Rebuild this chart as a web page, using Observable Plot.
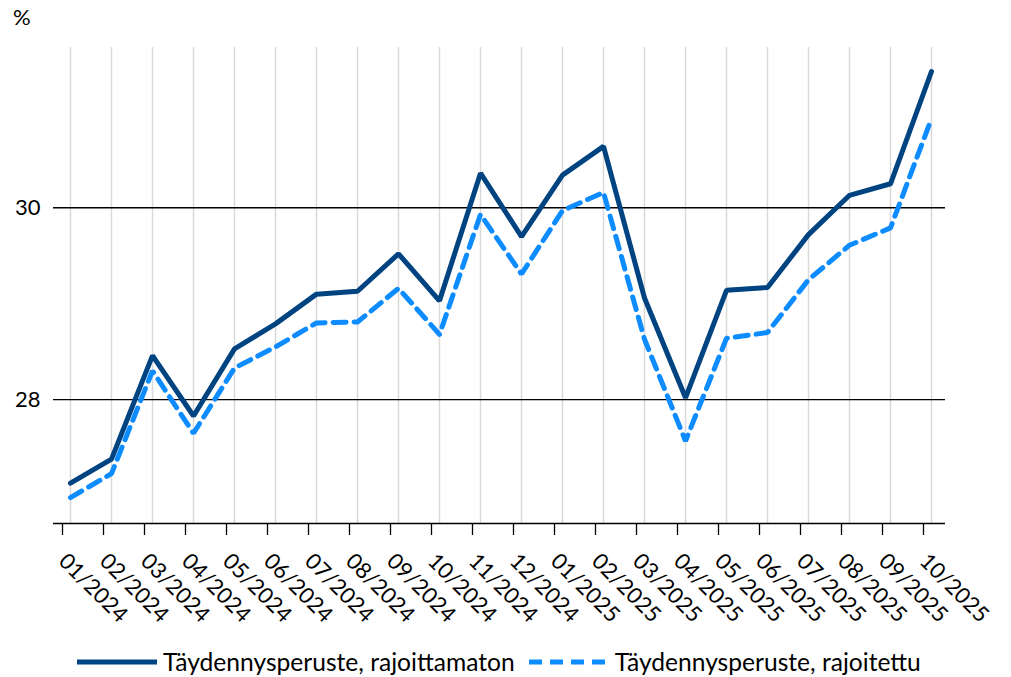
<!DOCTYPE html>
<html>
<head>
<meta charset="utf-8">
<script src="https://cdn.jsdelivr.net/npm/d3@7"></script>
<script src="https://cdn.jsdelivr.net/npm/@observablehq/plot@0.6"></script>
<style>
  html, body { margin: 0; padding: 0; background: #fff; }
  #wrap { position: relative; width: 1011px; height: 677px; font-family: Lato, "Open Sans", sans-serif; color: #000; }
  #unit { position: absolute; left: 13px; top: 3px; font-size: 22px; }
  #legend { position: absolute; left: 77px; top: 647px; display: flex; align-items: center; font-size: 24.6px; white-space: nowrap; }
  #legend .item { display: flex; align-items: center; }
  #legend svg { display: block; }
</style>
</head>
<body>
<div id="wrap">
  <div id="chart"></div>
  <div id="unit">%</div>
  <div id="legend"></div>
</div>
<script>
const months = ["01/2024","02/2024","03/2024","04/2024","05/2024","06/2024","07/2024","08/2024","09/2024","10/2024","11/2024","12/2024","01/2025","02/2025","03/2025","04/2025","05/2025","06/2025","07/2025","08/2025","09/2025","10/2025"];
const rajoittamaton = [27.13, 27.38, 28.46, 27.83, 28.53, 28.79, 29.10, 29.13, 29.52, 29.03, 30.36, 29.70, 30.34, 30.64, 29.06, 28.02, 29.14, 29.17, 29.72, 30.13, 30.25, 31.42];
const rajoitettu = [26.98, 27.23, 28.30, 27.65, 28.33, 28.55, 28.80, 28.81, 29.16, 28.68, 29.93, 29.31, 29.97, 30.16, 28.63, 27.57, 28.64, 28.70, 29.25, 29.61, 29.79, 30.93];
const yTicks = [28, 30];
const seriesNames = ["Täydennysperuste, rajoittamaton", "Täydennysperuste, rajoitettu"];
const colors = ["#004381", "#0d8cff"];

const solid = months.map((m, i) => ({month: m, value: rajoittamaton[i]}));
const dashed = months.map((m, i) => ({month: m, value: rajoitettu[i]}));
const yMin = 26.71, yMax = 31.67;

const chart = Plot.plot({
  width: 1011,
  height: 640,
  marginTop: 47,
  marginLeft: 53,
  marginRight: 66,
  marginBottom: 117,
  style: {fontFamily: "Lato, 'Open Sans', sans-serif", fontSize: "22px", color: "#000", background: "#fff", overflow: "visible"},
  x: {type: "point", domain: months, range: [66, 934], padding: 0, label: null},
  y: {domain: [yMin, yMax], range: [523, 47], label: null},
  marks: [
    Plot.gridX({stroke: "#d9d9d9", strokeOpacity: 1, strokeWidth: 1.5}),
    Plot.ruleY(yTicks, {stroke: "#000", strokeWidth: 1.3}),
    Plot.ruleY([yMin], {stroke: "#000", strokeWidth: 1.5}),
    Plot.axisX({tickSize: 12, tickRotate: 45, tickPadding: 22, dx: -8, fontSize: 22, stroke: "#000", strokeWidth: 1.3}),
    Plot.axisY({ticks: yTicks, tickFormat: d => String(d), tickSize: 0, tickPadding: 13, fontSize: 22}),
    Plot.lineY(solid, {x: "month", y: "value", stroke: colors[0], strokeWidth: 5, strokeLinejoin: "miter"}),
    Plot.lineY(dashed, {x: "month", y: "value", stroke: colors[1], strokeWidth: 5, strokeDasharray: "13,8", strokeLinejoin: "miter"})
  ]
});
document.getElementById("chart").appendChild(chart);

const legend = document.getElementById("legend");
seriesNames.forEach((name, i) => {
  const item = document.createElement("div");
  item.className = "item";
  item.style.marginRight = i === 0 ? "14px" : "0";
  const dash = i === 0 ? "" : 'stroke-dasharray="13,8"';
  item.innerHTML = `<svg width="86" height="10"><line x1="0" x2="80" y1="5" y2="5" stroke="${colors[i]}" stroke-width="5" ${dash}></line></svg><span>${name}</span>`;
  legend.appendChild(item);
});
</script>
</body>
</html>
